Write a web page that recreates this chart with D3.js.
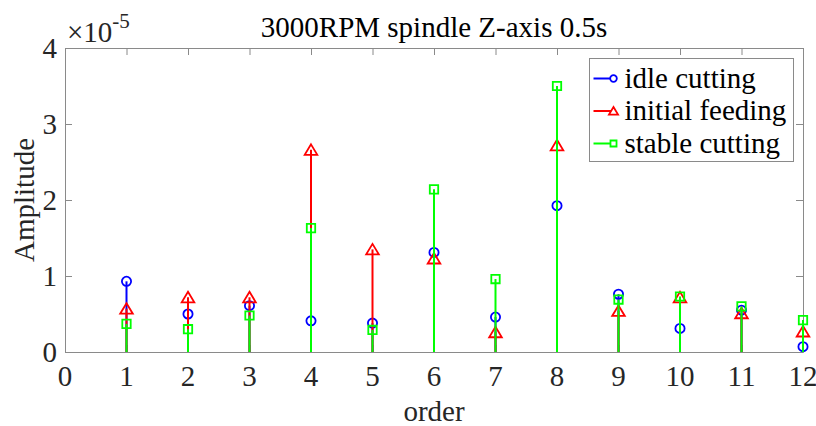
<!DOCTYPE html>
<html>
<head>
<meta charset="utf-8">
<script src="https://cdn.jsdelivr.net/npm/d3@7"></script>
<style>
  body { margin: 0; background: #fff; }
  svg { display: block; }
</style>
</head>
<body>
<div id="chart"></div>
<script>
// chart values, amplitudes
const orders = [1, 2, 3, 4, 5, 6, 7, 8, 9, 10, 11, 12];
const idleCutting = [0.93e-5, 0.50e-5, 0.61e-5, 0.41e-5, 0.38e-5, 1.31e-5, 0.46e-5, 1.925e-5, 0.76e-5, 0.31e-5, 0.55e-5, 0.07e-5];
const initialFeeding = [0.57e-5, 0.72e-5, 0.72e-5, 2.66e-5, 1.35e-5, 1.23e-5, 0.26e-5, 2.72e-5, 0.54e-5, 0.72e-5, 0.51e-5, 0.27e-5];
const stableCutting = [0.37e-5, 0.30e-5, 0.48e-5, 1.63e-5, 0.29e-5, 2.14e-5, 0.96e-5, 3.50e-5, 0.69e-5, 0.73e-5, 0.60e-5, 0.42e-5];
const seriesNames = ["idle cutting", "initial feeding", "stable cutting"];
const xTicks = [0, 1, 2, 3, 4, 5, 6, 7, 8, 9, 10, 11, 12];
const yTicks = [0, 1e-5, 2e-5, 3e-5, 4e-5];
const yTickLabels = ["0", "1", "2", "3", "4"];

const width = 816;
const height = 426;
const margin = { top: 48, right: 13, bottom: 74, left: 65 };
const innerWidth = width - margin.left - margin.right;
const innerHeight = height - margin.top - margin.bottom;
const fontSize = 29;
const fontFamily = "'Liberation Serif', 'Times New Roman', serif";
const axisColor = "#8a8a8a";
const textColor = "#262626";

const series = [
    { name: seriesNames[0], values: idleCutting, color: "#0000ff", marker: "circle" },
    { name: seriesNames[1], values: initialFeeding, color: "#ff0000", marker: "triangle" },
    { name: seriesNames[2], values: stableCutting, color: "#00ff00", marker: "square" },
];

const svg = d3.select("#chart")
    .append("svg")
    .attr("width", width)
    .attr("height", height)
    .attr("font-family", fontFamily)
    .attr("font-size", fontSize);

const graph = svg.append("g")
    .attr("transform", "translate(" + margin.left + "," + margin.top + ")");

const x = d3.scaleLinear().domain([0, 12]).range([0, innerWidth]);
const y = d3.scaleLinear().domain([0, 4e-5]).range([innerHeight, 0]);

// axis lines and inward ticks on all four sides (box on)
function styleAxis(g) {
    g.select(".domain").attr("stroke", axisColor);
    g.selectAll(".tick line").attr("stroke", axisColor);
    g.selectAll(".tick text").remove();
}

graph.append("g")
    .attr("transform", "translate(0," + innerHeight + ")")
    .call(d3.axisBottom(x).tickValues(xTicks).tickSizeInner(-7).tickSizeOuter(0))
    .call(styleAxis);

graph.append("g")
    .call(d3.axisTop(x).tickValues(xTicks).tickSizeInner(-7).tickSizeOuter(0))
    .call(styleAxis);

graph.append("g")
    .call(d3.axisLeft(y).tickValues(yTicks).tickSizeInner(-7).tickSizeOuter(0))
    .call(styleAxis);

graph.append("g")
    .attr("transform", "translate(" + innerWidth + ",0)")
    .call(d3.axisRight(y).tickValues(yTicks).tickSizeInner(-7).tickSizeOuter(0))
    .call(styleAxis);

// tick labels
graph.append("g")
    .selectAll("text")
    .data(xTicks)
    .enter()
    .append("text")
    .attr("x", d => x(d))
    .attr("y", innerHeight + 34)
    .attr("text-anchor", "middle")
    .attr("fill", textColor)
    .text(d => d);

graph.append("g")
    .selectAll("text")
    .data(yTicks)
    .enter()
    .append("text")
    .attr("x", -8)
    .attr("y", d => y(d) + 10)
    .attr("text-anchor", "end")
    .attr("fill", textColor)
    .text((d, i) => yTickLabels[i]);

// exponent label
const expo = graph.append("text")
    .attr("x", 2)
    .attr("y", -6)
    .attr("fill", textColor);
expo.append("tspan").text("\u00d710");
expo.append("tspan")
    .attr("dy", -14)
    .attr("font-size", 21)
    .text("-5");

// title
graph.append("text")
    .attr("x", innerWidth / 2)
    .attr("y", -11)
    .attr("text-anchor", "middle")
    .attr("fill", "#000")
    .text("3000RPM spindle Z-axis 0.5s");

// axis labels
graph.append("text")
    .attr("x", innerWidth / 2)
    .attr("y", innerHeight + 69)
    .attr("text-anchor", "middle")
    .attr("fill", textColor)
    .text("order");

graph.append("text")
    .attr("transform", "translate(" + (-31) + "," + (innerHeight / 2) + ") rotate(-90)")
    .attr("text-anchor", "middle")
    .attr("fill", textColor)
    .text("Amplitude");

// marker shapes, MATLAB-like
function markerPath(type, s) {
    if (type === "circle") {
        return d3.arc()({ innerRadius: 0, outerRadius: 4.6 * s, startAngle: 0, endAngle: 2 * Math.PI });
    }
    if (type === "triangle") {
        return "M0," + (-5.5 * s) + "L" + (6.3 * s) + "," + (5 * s) + "L" + (-6.3 * s) + "," + (5 * s) + "Z";
    }
    const h = 4.2 * s;
    return "M" + (-h) + "," + (-h) + "H" + h + "V" + h + "H" + (-h) + "Z";
}

// stems
series.forEach(s => {
    const layer = graph.append("g");
    layer.selectAll("line")
        .data(orders)
        .enter()
        .append("line")
        .attr("x1", (d, i) => x(d))
        .attr("x2", (d, i) => x(d))
        .attr("y1", y(0))
        .attr("y2", (d, i) => y(s.values[i]))
        .attr("stroke", s.color)
        .attr("stroke-width", 2);
    layer.selectAll("path")
        .data(orders)
        .enter()
        .append("path")
        .attr("transform", (d, i) => "translate(" + x(d) + "," + y(s.values[i]) + ")")
        .attr("d", markerPath(s.marker, 1))
        .attr("fill", "none")
        .attr("stroke", s.color)
        .attr("stroke-width", 1.8);
});

// legend
const legend = svg.append("g").attr("transform", "translate(589.5,58.5)");
legend.append("rect")
    .attr("width", 204)
    .attr("height", 103)
    .attr("fill", "#fff")
    .attr("stroke", axisColor);

const legendY = d3.scalePoint().domain(seriesNames).range([20, 85]);

const rows = legend.selectAll("g.row")
    .data(series)
    .enter()
    .append("g")
    .attr("class", "row")
    .attr("transform", d => "translate(0," + legendY(d.name) + ")");

rows.append("line")
    .attr("x1", 4)
    .attr("x2", 24)
    .attr("stroke", d => d.color)
    .attr("stroke-width", 2);

rows.append("path")
    .attr("transform", "translate(24,0)")
    .attr("d", d => markerPath(d.marker, 0.72))
    .attr("fill", "#fff")
    .attr("stroke", d => d.color)
    .attr("stroke-width", 1.8);

rows.append("text")
    .attr("x", 35)
    .attr("y", 9)
    .attr("fill", "#000")
    .text(d => d.name);
</script>
</body>
</html>
